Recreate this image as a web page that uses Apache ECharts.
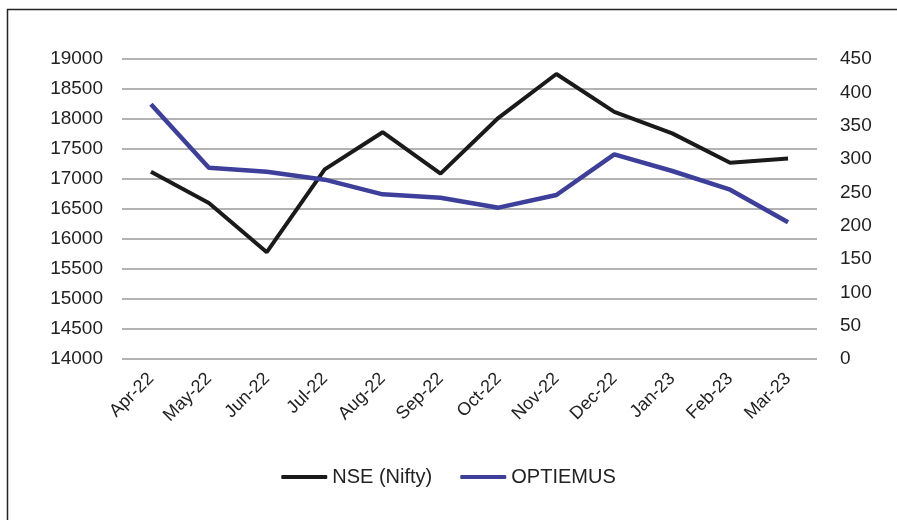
<!DOCTYPE html>
<html>
<head>
<meta charset="utf-8">
<script src="https://cdn.jsdelivr.net/npm/echarts@6/dist/echarts.min.js"></script>
<style>
    html, body { margin: 0; padding: 0; background: #fff; }
    #main { width: 897px; height: 520px; }
</style>
</head>
<body>
<div id="main"></div>
<script>
// 月份
var months = ['Apr-22', 'May-22', 'Jun-22', 'Jul-22', 'Aug-22', 'Sep-22', 'Oct-22', 'Nov-22', 'Dec-22', 'Jan-23', 'Feb-23', 'Mar-23'];
// 左轴 NSE (Nifty)
var nifty = [17120, 16600, 15780, 17160, 17780, 17090, 18020, 18750, 18120, 17760, 17270, 17340];
// 右轴 OPTIEMUS
var optiemus = [382, 287, 281, 269, 247, 242, 227, 246, 307, 282, 254, 205];

var myChart = echarts.init(document.getElementById('main'));

var font = 'Liberation Sans, Arial, sans-serif';

var option = {
    backgroundColor: '#fff',
    animation: false,
    // 外框 (只有左边和上边)
    graphic: [
        { type: 'line', shape: { x1: 7.5, y1: 9, x2: 7.5, y2: 520 }, style: { stroke: '#222', lineWidth: 1.5 } },
        { type: 'line', shape: { x1: 7, y1: 9.5, x2: 897, y2: 9.5 }, style: { stroke: '#222', lineWidth: 1.5 } }
    ],
    grid: { left: 122, right: 80, top: 59, bottom: 161 },
    legend: {
        bottom: 28,
        left: 'center',
        itemWidth: 46,
        itemHeight: 4,
        itemGap: 28,
        icon: 'roundRect',
        textStyle: { fontFamily: font, fontSize: 20, color: '#222' },
        data: ['NSE (Nifty)', 'OPTIEMUS']
    },
    xAxis: {
        type: 'category',
        data: months,
        boundaryGap: true,
        axisLine: { show: false },
        axisTick: { show: false },
        axisLabel: { rotate: 45, margin: 17, fontFamily: font, fontSize: 18, color: '#222' }
    },
    yAxis: [
        {
            type: 'value', min: 14000, max: 19000, interval: 500,
            axisLabel: {
                margin: 19, fontFamily: font, fontSize: 19, color: '#222',
                formatter: function (v) { return String(v) }
            },
            splitLine: { lineStyle: { color: '#999', width: 1.5 } },
            axisLine: { show: false }, axisTick: { show: false }
        },
        {
            type: 'value', min: 0, max: 450, interval: 50,
            axisLabel: { margin: 23, fontFamily: font, fontSize: 19, color: '#222' },
            splitLine: { show: false },
            axisLine: { show: false }, axisTick: { show: false }
        }
    ],
    series: [
        {
            name: 'NSE (Nifty)', type: 'line', yAxisIndex: 0, data: nifty,
            symbol: 'none', lineStyle: { color: '#1a1a1a', width: 4 }, itemStyle: { color: '#1a1a1a' }
        },
        {
            name: 'OPTIEMUS', type: 'line', yAxisIndex: 1, data: optiemus,
            symbol: 'none', lineStyle: { color: '#3d3f9b', width: 4.5 }, itemStyle: { color: '#3d3f9b' }
        }
    ]
};

myChart.setOption(option);
</script>
</body>
</html>
